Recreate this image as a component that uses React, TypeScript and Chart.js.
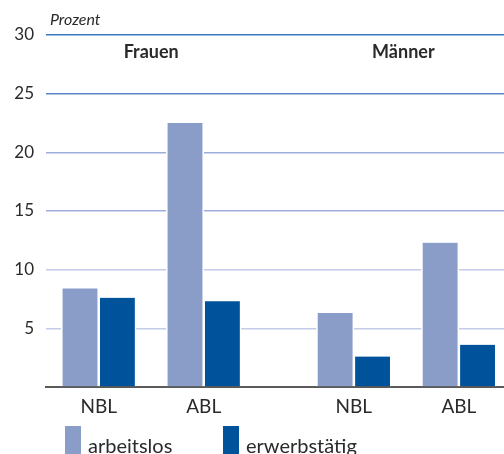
import React, { useEffect, useRef } from "react";
import { Chart, registerables } from "chart.js";

Chart.register(...registerables);

// ---- data ----
const groups = ["Frauen", "Männer"];
const regions = ["NBL", "ABL"];
const seriesNames = ["arbeitslos", "erwerbstätig"];
// order: Frauen NBL, Frauen ABL, Männer NBL, Männer ABL
const arbeitslos = [8.4, 22.5, 6.3, 12.3];
const erwerbstaetig = [7.6, 7.3, 2.6, 3.6];
const yTicks = [0, 5, 10, 15, 20, 25, 30];
const yTitle = "Prozent";

// ---- styles ----
const seriesColors = ["#8a9cc8", "#00529b"];
const FONT = "Lato, 'Open Sans', sans-serif";
const TEXT = "#2a2a2a";
const GROUP_GAP = 0.43; // extra spacing between the two groups (in slot units)

const positions = groups.flatMap((_, gi) =>
  regions.map((_, ri) => gi * (regions.length + GROUP_GAP) + ri)
);

function gridColor(v: number) {
  if (v === 0) return "rgba(0,0,0,0)";
  if (v >= 30) return "#3b79bd";
  if (v >= 25) return "#5f84c8";
  if (v >= 15) return "#9caedb";
  return "#c3cce8";
}

const overlay = {
  id: "overlay",
  afterDraw(chart: any) {
    const ctx = chart.ctx as CanvasRenderingContext2D;
    const xs = chart.scales.x;
    ctx.save();
    // axis title
    ctx.fillStyle = TEXT;
    ctx.font = `italic 16px ${FONT}`;
    ctx.textAlign = "left";
    ctx.textBaseline = "alphabetic";
    ctx.fillText(yTitle, 50, 25);
    // group titles
    ctx.font = `bold 18px ${FONT}`;
    ctx.textAlign = "center";
    ctx.textBaseline = "middle";
    groups.forEach((g, gi) => {
      const a = positions[gi * regions.length];
      const b = positions[gi * regions.length + regions.length - 1];
      ctx.fillText(g, xs.getPixelForValue((a + b) / 2) - (gi ? 3 : 0), 52);
    });
    // legend
    const legendX = [65, 223];
    ctx.font = `20px ${FONT}`;
    ctx.textAlign = "left";
    ctx.textBaseline = "alphabetic";
    seriesNames.forEach((name, i) => {
      ctx.fillStyle = seriesColors[i];
      ctx.fillRect(legendX[i], 426, 16, 30);
      ctx.fillStyle = TEXT;
      ctx.fillText(name, legendX[i] + 23, 453);
    });
    ctx.restore();
  },
};

export default function App() {
  const ref = useRef<HTMLCanvasElement>(null);
  useEffect(() => {
    if (!ref.current) return;
    const mk = (vals: number[]) => vals.map((v, i) => ({ x: positions[i], y: v }));
    const chart = new Chart(ref.current, {
      type: "bar",
      data: {
        datasets: [arbeitslos, erwerbstaetig].map((vals, i) => ({
          label: seriesNames[i],
          data: mk(vals),
          backgroundColor: seriesColors[i],
          borderColor: "#ffffff",
          borderWidth: { left: 1.6, right: 1.6, top: 0, bottom: 0 },
          borderSkipped: false,
          barThickness: 37.4,
        })),
      },
      options: {
        animation: false,
        responsive: true,
        maintainAspectRatio: false,
        layout: { padding: { top: 35, left: 0, right: 0, bottom: 0 } },
        plugins: {
          legend: { display: false },
          tooltip: { enabled: false },
        },
        scales: {
          x: {
            type: "linear",
            offset: false,
            min: -0.502,
            max: 3.86,
            grid: { display: false, drawTicks: false },
            border: { display: true, color: "#5a5a5a", width: 2 },
            afterBuildTicks: (scale: any) => {
              scale.ticks = positions.map((v) => ({ value: v }));
            },
            afterFit: (scale: any) => {
              scale.height = 67;
            },
            ticks: {
              autoSkip: false,
              maxRotation: 0,
              padding: 8,
              color: TEXT,
              font: { family: FONT, size: 19 },
              callback: (_v: any, i: number) => regions[i % regions.length],
            },
          },
          y: {
            min: 0,
            max: 30,
            afterBuildTicks: (scale: any) => {
              scale.ticks = yTicks.map((v) => ({ value: v }));
            },
            afterFit: (scale: any) => {
              scale.width = 46;
            },
            grid: {
              drawTicks: false,
              lineWidth: 1.5,
              color: (c: any) => gridColor(c.tick ? c.tick.value : 0),
            },
            border: { display: false },
            ticks: {
              padding: 12,
              color: TEXT,
              font: { family: FONT, size: 17 },
              callback: (v: any) => (v === 0 ? "" : String(v)),
            },
          },
        },
      },
      plugins: [overlay],
    });
    return () => chart.destroy();
  }, []);
  return (
    <div style={{ position: "fixed", left: 0, top: 0, width: 504, height: 454, background: "#fff" }}>
      <canvas ref={ref} />
    </div>
  );
}
